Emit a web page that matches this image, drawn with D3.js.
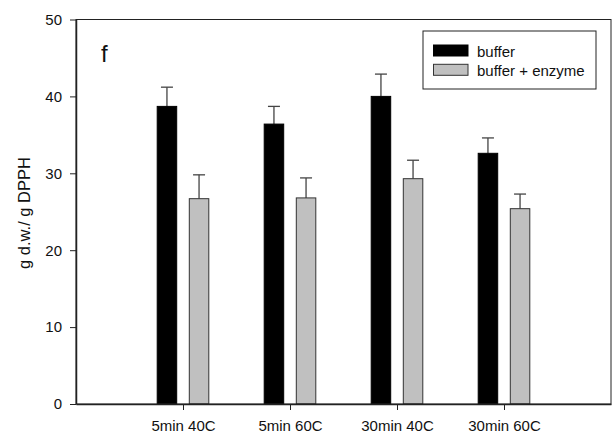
<!DOCTYPE html>
<html>
<head>
<meta charset="utf-8">
<script src="https://cdn.jsdelivr.net/npm/d3@7"></script>
<style>
  body { margin: 0; background: #fff; }
  svg { display: block; font-family: "Liberation Sans", Arial, sans-serif; }
</style>
</head>
<body>
<svg id="chart"></svg>
<script>
// treatments along the x axis
const categories = ['5min 40C', '5min 60C', '30min 40C', '30min 60C'];
const series = ['buffer', 'buffer + enzyme'];
const bufferMean = [38.7, 36.4, 40.0, 32.6];
const bufferErr = [2.5, 2.3, 2.9, 2.0];
const enzymeMean = [26.7, 26.8, 29.3, 25.4];
const enzymeErr = [3.1, 2.6, 2.4, 1.9];
const yTicks = [0, 10, 20, 30, 40, 50];

const colors = ['#000000', '#c0c0c0'];

const width = 612, height = 437;
const margin = { top: 19.5, right: 1, bottom: 33, left: 76 };
const innerW = width - margin.left - margin.right;
const innerH = height - margin.top - margin.bottom;

const svg = d3.select('#chart').attr('width', width).attr('height', height);
const chart = svg.append('g').attr('transform', `translate(${margin.left}, ${margin.top})`);

// categories sit at 1..4 on a 0..5 scale, like the original plot
const xscale = d3.scaleLinear().domain([0, categories.length + 1]).range([0, innerW]);
const yscale = d3.scaleLinear().domain([0, 50]).range([innerH, 0]);

const barW = 19.5, offset = 6.3;

const data = [];
categories.forEach((c, i) => {
    data.push({ cat: c, i: i, s: 0, value: bufferMean[i], err: bufferErr[i] });
    data.push({ cat: c, i: i, s: 1, value: enzymeMean[i], err: enzymeErr[i] });
});
const barX = d => d.s === 0 ? xscale(d.i + 1) - offset - barW : xscale(d.i + 1) + offset;

// error bars (drawn first so the bar covers the lower half)
const eb = chart.selectAll('.err').data(data).join('g').attr('class', 'err')
    .attr('stroke', '#444').attr('stroke-width', 1.3);
eb.append('line')
    .attr('x1', d => barX(d) + barW / 2).attr('x2', d => barX(d) + barW / 2)
    .attr('y1', d => yscale(d.value)).attr('y2', d => yscale(d.value + d.err));
eb.append('line')
    .attr('x1', d => barX(d) + barW / 2 - 6).attr('x2', d => barX(d) + barW / 2 + 6)
    .attr('y1', d => yscale(d.value + d.err)).attr('y2', d => yscale(d.value + d.err));

chart.selectAll('rect.bar').data(data).join('rect').attr('class', 'bar')
    .attr('x', d => barX(d))
    .attr('y', d => yscale(d.value))
    .attr('width', barW)
    .attr('height', d => innerH - yscale(d.value))
    .attr('fill', d => colors[d.s])
    .attr('stroke', d => d.s === 0 ? '#000' : '#333')
    .attr('stroke-width', 1);

// frame
chart.append('rect').attr('width', innerW).attr('height', innerH)
    .attr('fill', 'none').attr('stroke', '#222').attr('stroke-width', 1);

const yaxis = d3.axisLeft(yscale).tickValues(yTicks).tickSize(6).tickPadding(8).tickSizeOuter(0);
const xaxis = d3.axisBottom(xscale).tickValues(categories.map((c, i) => i + 1))
    .tickFormat(v => categories[v - 1]).tickSize(6).tickPadding(10).tickSizeOuter(0);

const yg = chart.append('g').call(yaxis);
const xg = chart.append('g').attr('transform', `translate(0, ${innerH})`).call(xaxis);
[yg, xg].forEach(g => {
    g.select('.domain').attr('stroke', '#222').attr('stroke-width', 1.5);
    g.selectAll('.tick line').attr('stroke', '#222');
    g.selectAll('.tick text').attr('font-size', 15).attr('fill', '#111')
        .attr('font-family', '"Liberation Sans", Arial, sans-serif');
});

// y axis title
svg.append('text')
    .attr('transform', `translate(29.5, 213) rotate(-90)`)
    .attr('text-anchor', 'middle')
    .attr('font-size', 16.5).attr('fill', '#111')
    .text('g d.w./ g DPPH');

// panel letter
chart.append('text').attr('x', 25).attr('y', 42)
    .attr('font-size', 24).attr('fill', '#111').text('f');

// legend
const legend = svg.append('g').attr('transform', 'translate(423, 31)');
legend.append('rect').attr('width', 173).attr('height', 58)
    .attr('fill', '#fff').attr('stroke', '#222').attr('stroke-width', 1);
series.forEach((s, i) => {
    const row = legend.append('g').attr('transform', `translate(10.5, ${14 + i * 19.3})`);
    row.append('rect').attr('width', 34.5).attr('height', 11)
        .attr('fill', colors[i]).attr('stroke', i === 0 ? '#000' : '#333');
    row.append('text').attr('x', 43.5).attr('y', 11.5)
        .attr('font-size', 15).attr('fill', '#111').text(s);
});
</script>
</body>
</html>
